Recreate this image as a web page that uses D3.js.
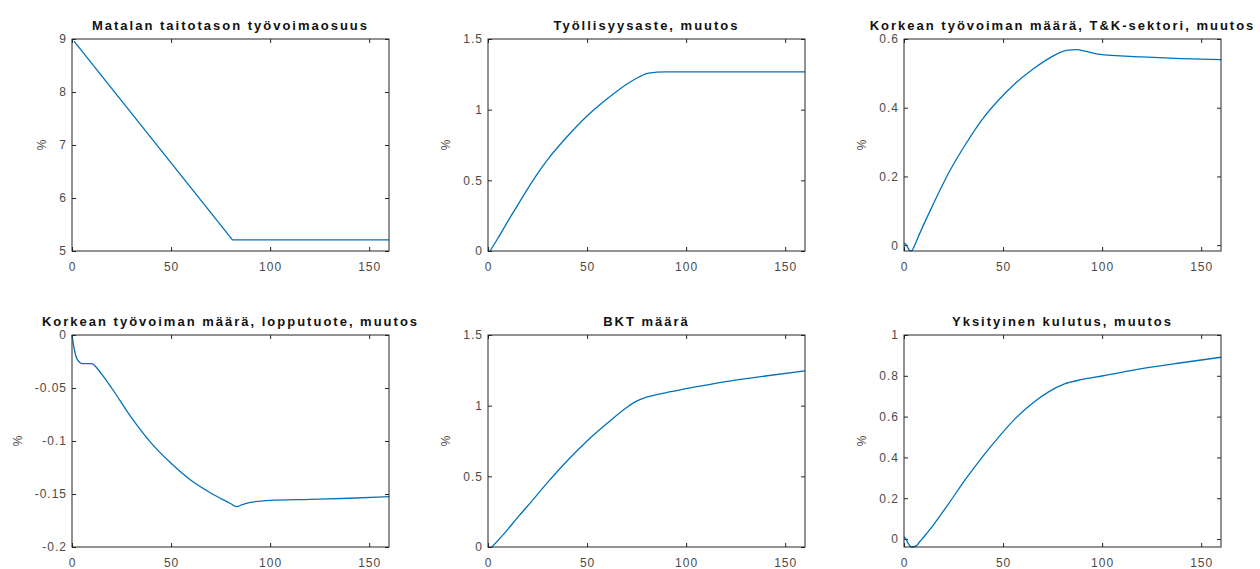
<!DOCTYPE html>
<html>
<head>
<meta charset="utf-8">
<script src="https://cdn.jsdelivr.net/npm/d3@7"></script>
<style>
  body { margin: 0; background: #fff; }
  svg { display: block; }
</style>
</head>
<body>
<div id="chart"></div>
<script>
// Panel titles and y-axis settings
const titles = [
    "Matalan taitotason työvoimaosuus",
    "Työllisyysaste, muutos",
    "Korkean työvoiman määrä, T&K-sektori, muutos",
    "Korkean työvoiman määrä, lopputuote, muutos",
    "BKT määrä",
    "Yksityinen kulutus, muutos"
];
const yDomains = [[5, 9], [0, 1.5], [-0.017, 0.6], [-0.2, 0], [0, 1.5], [-0.039, 1]];
const yTicks = [
    [5, 6, 7, 8, 9],
    [0, 0.5, 1, 1.5],
    [0, 0.2, 0.4, 0.6],
    [-0.2, -0.15, -0.1, -0.05, 0],
    [0, 0.5, 1, 1.5],
    [0, 0.2, 0.4, 0.6, 0.8, 1]
];
const xDomain = [0, 160];
const xTicks = [0, 50, 100, 150];

// Series values, [period, %]
const lowSkillShare = [[1, 8.96], [81, 5.21], [100, 5.21], [120, 5.21], [140, 5.21], [160, 5.21]];
const employmentRate = [[1, 0], [5, 0.09], [10, 0.21], [15, 0.325], [20, 0.44], [25, 0.548], [30, 0.645],
    [40, 0.81], [50, 0.955], [60, 1.075], [70, 1.18], [75, 1.222], [80, 1.255], [85, 1.265], [90, 1.268],
    [100, 1.268], [120, 1.268], [140, 1.268], [160, 1.268]];
const rdLabour = [[0, 0.005], [1, 0.002], [2, -0.008], [3, -0.016], [4, -0.016], [5, -0.005], [8, 0.035],
    [14, 0.11], [23, 0.215], [31, 0.293], [40, 0.37], [48, 0.424], [56, 0.47], [65, 0.512], [73, 0.543],
    [82, 0.567], [87, 0.569], [92, 0.564], [98, 0.556], [120, 0.548], [140, 0.543], [160, 0.54]];
const finalGoodLabour = [[0, 0], [1, -0.012], [2, -0.02], [3, -0.024], [5, -0.027], [8, -0.027], [10, -0.027], [12, -0.03],
    [15, -0.037], [20, -0.05], [30, -0.078], [40, -0.102], [50, -0.121], [60, -0.137], [70, -0.149], [80, -0.159],
    [83, -0.162], [86, -0.16], [90, -0.158], [100, -0.156], [120, -0.155], [140, -0.154], [160, -0.1525]];
const gdp = [[2, 0], [10, 0.125], [15, 0.21], [20, 0.29], [30, 0.455], [40, 0.61], [50, 0.75], [60, 0.873],
    [70, 0.987], [75, 1.032], [80, 1.06], [90, 1.093], [100, 1.12], [120, 1.17], [140, 1.21], [160, 1.246]];
const consumption = [[0, 0.01], [1, 0.0], [2, -0.02], [4, -0.039], [6, -0.035], [8, -0.012], [10, 0.01], [14, 0.058],
    [23, 0.18], [31, 0.292], [40, 0.408], [48, 0.502], [56, 0.589], [65, 0.667], [73, 0.721], [81, 0.76],
    [90, 0.782], [100, 0.799], [120, 0.835], [140, 0.864], [160, 0.891]];

const series = [lowSkillShare, employmentRate, rdLabour, finalGoodLabour, gdp, consumption];
const curves = [d3.curveLinear, d3.curveMonotoneX, d3.curveMonotoneX, d3.curveMonotoneX, d3.curveMonotoneX, d3.curveMonotoneX];

const width = 1260, height = 569;
const colLeft = [72, 488, 904];
const rowTop = [39, 335];
const pw = 317, ph = 212;

const svg = d3.select("#chart").append("svg")
    .attr("width", width)
    .attr("height", height)
    .style("font-family", "'Liberation Sans', Arial, sans-serif");

const fmt = v => String(+v.toFixed(4));

titles.forEach((title, i) => {
    const left = colLeft[i % 3], top = rowTop[Math.floor(i / 3)];
    const x = d3.scaleLinear().domain(xDomain).range([0, pw]);
    const y = d3.scaleLinear().domain(yDomains[i]).range([ph, 0]);

    const g = svg.append("g").attr("transform", `translate(${left},${top})`);

    // axes with inward ticks, mirrored on top and right
    const styleAxis = (sel, showText) => {
        sel.select(".domain").remove();
        sel.selectAll(".tick line").attr("stroke", "#262626");
        sel.selectAll(".tick text")
            .attr("fill", "#4a4a4a")
            .style("font-size", "12px")
            .style("letter-spacing", "1px")
            .style("display", showText ? null : "none");
    };
    g.append("g").attr("transform", `translate(0,${ph})`)
        .call(d3.axisBottom(x).tickValues(xTicks).tickFormat(fmt).tickSizeInner(-4).tickPadding(11))
        .call(s => styleAxis(s, true));
    g.append("g")
        .call(d3.axisTop(x).tickValues(xTicks).tickSizeInner(-4))
        .call(s => styleAxis(s, false));
    const yAxis = g.append("g")
        .call(d3.axisLeft(y).tickValues(yTicks[i]).tickFormat(fmt).tickSizeInner(-4).tickPadding(5))
        .call(s => styleAxis(s, true));
    g.append("g").attr("transform", `translate(${pw},0)`)
        .call(d3.axisRight(y).tickValues(yTicks[i]).tickSizeInner(-4))
        .call(s => styleAxis(s, false));

    // data line
    g.append("path")
        .datum(series[i])
        .attr("fill", "none")
        .attr("stroke", "#0072BD")
        .attr("stroke-width", 1.3)
        .attr("d", d3.line().x(d => x(d[0])).y(d => y(d[1])).curve(curves[i]));

    // box
    g.append("rect")
        .attr("width", pw).attr("height", ph)
        .attr("fill", "none")
        .attr("stroke", "#262626")
        .attr("stroke-width", 1);

    // title
    g.append("text")
        .attr("x", pw / 2).attr("y", -9)
        .attr("text-anchor", "middle")
        .attr("fill", "#111")
        .style("font-size", "13px")
        .style("font-weight", "bold")
        .style("letter-spacing", "2px")
        .text(title);

    // y label placed left of the tick labels
    const labW = d3.max(yAxis.selectAll(".tick text").nodes(), n => n.getBBox().width);
    g.append("text")
        .attr("transform", `translate(${-labW - 18},${ph / 2}) rotate(-90)`)
        .attr("text-anchor", "middle")
        .attr("fill", "#4a4a4a")
        .style("font-size", "12px")
        .text("%");
});
</script>
</body>
</html>
